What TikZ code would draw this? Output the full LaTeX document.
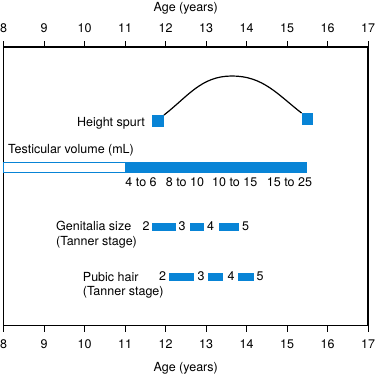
\documentclass[tikz,border=0pt]{standalone}
\usepackage{fontspec}
\setmainfont{TeX Gyre Heros}
\usetikzlibrary{positioning}
\definecolor{tannerblue}{RGB}{8,132,214}

\begin{document}
\begin{tikzpicture}[
    x=40.5pt, y=-1pt,
    % Define styles
    every node/.style={font=\fontsize{12.5}{14.5}\selectfont, inner sep=0pt},
    frame/.style={draw, line width=1.3pt},
    yearlbl/.style={anchor=base},
    rowlbl/.style={anchor=base west, align=left},
    stagebar/.style={fill=tannerblue},
    stagenum/.style={anchor=base},
    spurtsq/.style={
        rectangle,
        fill=tannerblue,
        minimum width=11.5pt,
        minimum height=11.5pt
    }
]
    \useasboundingbox (7.9136,0) rectangle (17.1975,374);

    % Frame and year axes
    \draw[frame] (8,47) rectangle (17,325.7);
    \foreach \yr in {8,...,17} {
        \draw[line width=0.8pt] (\yr,47) -- (\yr,41);
        \draw[line width=0.8pt] (\yr,325.7) -- (\yr,331.7);
        \node[yearlbl] (top\yr) at (\yr,33) {\yr};
        \node[yearlbl] (bot\yr) at (\yr,348) {\yr};
    }
    \node[yearlbl] (toptitle) at (12.5,12) {Age (years)};
    \node[yearlbl] (bottitle) at (12.5,371) {Age (years)};

    % Height spurt
    \node[spurtsq] (hs1) at (11.815,121) {};
    \node[spurtsq] (hs2) at (15.506,119) {};
    \coordinate (peak) at (13.642,76);
    \draw[line width=1.2pt] (hs1.north east) to[out=38,in=180] (peak)
        to[out=0,in=142] (hs2.north west);
    \node[anchor=base east] (hslbl) at (11.494,126) {Height spurt};

    % Testicular volume
    \node[rowlbl] (tvlbl) at (8.111,153) {Testicular volume (mL)};
    \draw[tannerblue, line width=0.9pt, fill=white] (8,162.5) rectangle (15.47,172.5);
    \fill[tannerblue] (11,162) rectangle (15.47,173);
    \node[rowlbl] (tv1) at (11.007,186.7) {4 to 6};
    \node[rowlbl] (tv2) at (12.005,186.7) {8 to 10};
    \node[rowlbl] (tv3) at (13.148,186.7) {10 to 15};
    \node[rowlbl] (tv4) at (14.499,186.7) {15 to 25};

    % Genitalia size (base is the last line)
    \node[rowlbl] (gslbl) at (9.296,245) {Genitalia size\\(Tanner stage)};
    \fill[stagebar] (11.667,223) rectangle (12.26,231);
    \fill[stagebar] (12.605,223) rectangle (12.95,231);
    \fill[stagebar] (13.32,223) rectangle (13.815,231);
    \node[stagenum] (gs2) at (11.519,230.5) {2};
    \node[stagenum] (gs3) at (12.407,230.5) {3};
    \node[stagenum] (gs4) at (13.116,230.5) {4};
    \node[stagenum] (gs5) at (13.98,230.5) {5};

    % Pubic hair
    \node[rowlbl] (phlbl) at (9.956,295.5) {Pubic hair\\(Tanner stage)};
    \fill[stagebar] (12.086,273) rectangle (12.704,281);
    \fill[stagebar] (13.05,273) rectangle (13.42,281);
    \fill[stagebar] (13.79,273) rectangle (14.185,281);
    \node[stagenum] (ph2) at (11.931,280.5) {2};
    \node[stagenum] (ph3) at (12.877,280.5) {3};
    \node[stagenum] (ph4) at (13.617,280.5) {4};
    \node[stagenum] (ph5) at (14.333,280.5) {5};
\end{tikzpicture}
\end{document}
